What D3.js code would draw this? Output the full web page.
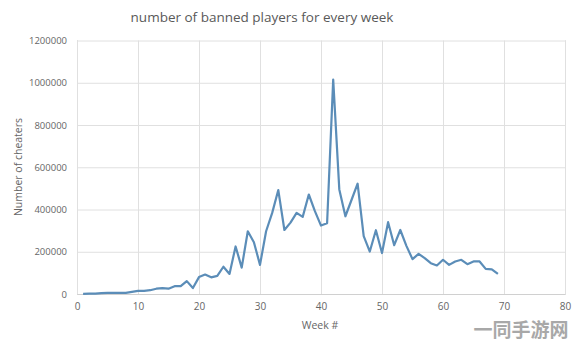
<!DOCTYPE html>
<html>
<head>
<meta charset="utf-8">
<script src="https://cdn.jsdelivr.net/npm/d3@7"></script>
<style>
  html, body { margin: 0; padding: 0; background: #fff; }
  svg { display: block; }
</style>
</head>
<body>
<svg id="chart" width="578" height="342"></svg>
<script>
const title = "number of banned players for every week";
const xTitle = "Week #";
const yTitle = "Number of cheaters";
const weeks = d3.range(1, 70);
const cheaters = [
  1000, 1500, 2000, 4000, 5000, 5000, 6000, 5000, 10000, 15000,
  15000, 18000, 25000, 28000, 25000, 37000, 37000, 61000, 28000, 80000,
  92000, 79000, 86000, 129000, 95000, 225000, 125000, 297000, 245000, 138000,
  297000, 384000, 492000, 303000, 338000, 384000, 365000, 471000, 392000, 324000,
  335000, 1015000, 495000, 368000, 445000, 522000, 274000, 201000, 302000, 194000,
  340000, 231000, 303000, 228000, 165000, 190000, 170000, 146000, 135000, 162000,
  138000, 154000, 162000, 141000, 154000, 154000, 119000, 117000, 95000
];
const xTicks = [0, 10, 20, 30, 40, 50, 60, 70, 80];
const yTicks = [0, 200000, 400000, 600000, 800000, 1000000, 1200000];
const watermark = "一同手游网";

const svg = d3.select("#chart");
const m = { left: 77, right: 13, top: 40.5, bottom: 48 };
const W = 578, H = 342;
const x = d3.scaleLinear().domain([0, 80]).range([m.left, W - m.right]);
const y = d3.scaleLinear().domain([0, 1200000]).range([H - m.bottom, m.top]);

const gridColor = "#e0e0e0";
const textColor = "#666";
const font = "'Open Sans', 'Liberation Sans', sans-serif";

// horizontal gridlines
svg.append("g")
  .attr("transform", `translate(${m.left},0)`)
  .call(d3.axisLeft(y).tickValues(yTicks).tickSize(-(W - m.left - m.right)).tickFormat(d => d).tickPadding(10))
  .call(g => g.select(".domain").remove())
  .call(g => g.selectAll("line").attr("stroke", gridColor).attr("stroke-width", 1))
  .call(g => g.selectAll("text").attr("fill", textColor).style("font-family", font).style("font-size", "9.5px"));

// vertical gridlines + x labels
svg.append("g")
  .attr("transform", `translate(0,${H - m.bottom})`)
  .call(d3.axisBottom(x).tickValues(xTicks).tickSize(-(H - m.top - m.bottom)).tickPadding(9))
  .call(g => g.select(".domain").attr("stroke", "#d0d0d0"))
  .call(g => g.selectAll("line").attr("stroke", gridColor).attr("stroke-width", 1))
  .call(g => g.selectAll("text").attr("fill", textColor).style("font-family", font).style("font-size", "10px"));

// line
const line = d3.line().x((d, i) => x(weeks[i])).y(d => y(d));
svg.append("path")
  .datum(cheaters)
  .attr("fill", "none")
  .attr("stroke", "#5b8db8")
  .attr("stroke-width", 2.2)
  .attr("stroke-linejoin", "round")
  .attr("d", line);

// title
svg.append("text")
  .attr("x", 262).attr("y", 22)
  .attr("text-anchor", "middle")
  .attr("fill", "#595959")
  .style("font-family", font)
  .style("font-size", "13.5px")
  .text(title);

// x title
svg.append("text")
  .attr("x", 320).attr("y", 329)
  .attr("text-anchor", "middle")
  .attr("fill", textColor)
  .style("font-family", font)
  .style("font-size", "10.5px")
  .text(xTitle);

// y title
svg.append("text")
  .attr("transform", "translate(22,167) rotate(-90)")
  .attr("text-anchor", "middle")
  .attr("fill", textColor)
  .style("font-family", font)
  .style("font-size", "10.5px")
  .text(yTitle);

// watermark
svg.append("text")
  .attr("x", 521).attr("y", 337)
  .attr("text-anchor", "middle")
  .attr("fill", "#9a9a9a")
  .attr("stroke", "#fff")
  .attr("stroke-width", 0.8)
  .attr("paint-order", "stroke")
  .style("font-family", "'Noto Sans CJK SC', sans-serif")
  .style("font-weight", "bold")
  .style("font-size", "19px")
  .attr("opacity", 0.85)
  .text(watermark);
</script>
</body>
</html>
